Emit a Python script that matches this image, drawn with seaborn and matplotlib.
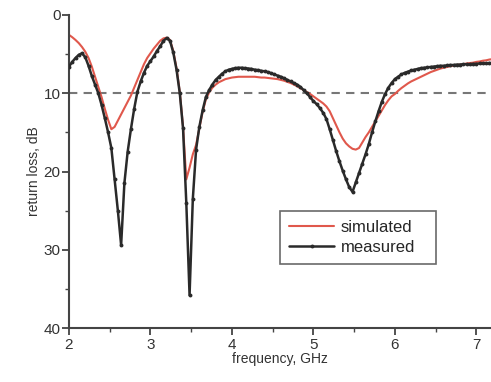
import numpy as np
import matplotlib
matplotlib.use("Agg")
import matplotlib.pyplot as plt
from matplotlib.ticker import MultipleLocator
import seaborn as sns

# frequency grid, GHz (step 0.04, 2.00 .. 7.20)
freq = np.round(2.0 + 0.04 * np.arange(131), 2)

# measured return loss, dB
measured = [
    6.6, 6.0, 5.5, 5.1, 4.9, 5.4, 6.5, 7.8, 8.9, 10.0,
    11.5, 13.2, 15.0, 17.0, 21.0, 25.0, 29.4, 21.5, 17.5, 14.6,
    12.0, 9.8, 8.5, 7.4, 6.5, 5.9, 5.3, 4.6, 4.0, 3.3,
    2.95, 3.3, 4.8, 7.0, 10.0, 14.5, 24.0, 35.8, 23.5, 17.2,
    14.3, 12.2, 10.5, 9.6, 8.9, 8.3, 7.9, 7.5, 7.2, 7.0,
    6.9, 6.8, 6.75, 6.75, 6.8, 6.85, 6.9, 7.0, 7.05, 7.15,
    7.2, 7.3, 7.45, 7.6, 7.75, 7.9, 8.1, 8.3, 8.5, 8.7,
    8.9, 9.2, 9.6, 10.0, 10.5, 11.0, 11.4, 11.9, 12.5, 13.3,
    14.6, 16.0, 17.4, 18.7, 19.9, 21.0, 22.0, 22.6, 21.4, 20.2,
    19.0, 17.8, 16.5, 15.0, 13.6, 12.3, 11.1, 10.1, 9.3, 8.7,
    8.2, 7.9, 7.6, 7.4, 7.25, 7.1, 7.0, 6.9, 6.8, 6.75,
    6.7, 6.65, 6.6, 6.55, 6.5, 6.5, 6.45, 6.4, 6.4, 6.35,
    6.35, 6.3, 6.3, 6.3, 6.25, 6.25, 6.2, 6.2, 6.2, 6.15,
    6.15,
]

# simulated return loss, dB
simulated = [
    2.55, 2.85, 3.2, 3.6, 4.1, 4.7, 5.5, 6.6, 7.9, 9.2,
    10.5, 12.0, 13.4, 14.6, 14.3, 13.5, 12.7, 11.9, 11.1, 10.3,
    9.3, 8.3, 7.3, 6.3, 5.5, 4.9, 4.3, 3.8, 3.3, 3.0,
    2.9, 3.2, 4.6, 6.8, 9.8, 14.3, 21.0, 19.5, 17.8, 16.6,
    14.5, 12.4, 10.8, 9.9, 9.3, 8.9, 8.6, 8.4, 8.2, 8.1,
    8.0, 7.95, 7.9, 7.9, 7.9, 7.9, 7.9, 7.9, 7.95, 8.0,
    8.0, 8.05, 8.1, 8.15, 8.2, 8.3, 8.4, 8.55, 8.7, 8.9,
    9.1, 9.35, 9.6, 9.85, 10.1, 10.4, 10.7, 11.0, 11.3, 11.7,
    12.3, 13.2, 14.1, 15.0, 15.8, 16.4, 16.8, 17.1, 17.2, 17.0,
    16.3, 15.6, 15.0, 14.3, 13.6, 12.9, 12.2, 11.5, 10.9, 10.4,
    10.1, 9.7, 9.35, 9.05, 8.75, 8.5, 8.3, 8.1, 7.9, 7.7,
    7.5, 7.3, 7.15, 7.0, 6.85, 6.75, 6.65, 6.55, 6.5, 6.4,
    6.35, 6.3, 6.2, 6.15, 6.1, 6.0, 5.95, 5.85, 5.8, 5.7,
    5.65,
]

threshold = 10

sns.set_style("white")
plt.rcParams['font.family'] = ['Liberation Sans', 'DejaVu Sans']

fig = plt.figure(figsize=(4.91, 3.82), dpi=100)
ax = fig.add_axes([0.1405, 0.141, 0.8595, 0.82])

ax.axhline(threshold, color='#777777', linestyle=(0, (4, 3)), linewidth=1.5, zorder=1)
sns.lineplot(x=freq, y=simulated, ax=ax, color='#e0584c', linewidth=1.5,
             label='simulated', zorder=2)
sns.lineplot(x=freq, y=measured, ax=ax, color='#2a2a2a', linewidth=1.8,
             marker='o', markersize=2.8, markeredgewidth=0, label='measured', zorder=3)

ax.set_xlim(2, 7.18)
ax.set_ylim(40, 0)
ax.xaxis.set_major_locator(MultipleLocator(1))
ax.xaxis.set_minor_locator(MultipleLocator(0.5))
ax.yaxis.set_major_locator(MultipleLocator(10))
ax.yaxis.set_minor_locator(MultipleLocator(5))
ax.tick_params(which='both', bottom=True, left=True, top=False, right=False)
ax.tick_params(which='major', direction='out', length=5, width=1.3,
               colors='#444444', labelsize=11, labelcolor='#333333')
ax.tick_params(which='minor', direction='out', length=3, width=1.0, colors='#444444')
ax.tick_params(axis='x', pad=2)
ax.tick_params(axis='y', pad=1)

for side in ['top', 'right']:
    ax.spines[side].set_visible(False)
for side in ['left', 'bottom']:
    ax.spines[side].set_color('#444444')
    ax.spines[side].set_linewidth(1.5)

ax.set_xlabel('frequency, GHz', fontsize=10, color='#333333', labelpad=0)
ax.set_ylabel('return loss, dB', fontsize=10, color='#333333', labelpad=2)

leg = ax.legend(loc='upper left', bbox_to_anchor=(0.5, 0.2, 0.37, 0.174),
                mode='expand', fontsize=12,
                frameon=True, fancybox=False, handlelength=2.7, borderpad=0.55,
                labelspacing=0.3, handletextpad=0.4, borderaxespad=0)
leg.get_frame().set_edgecolor('#444444')
leg.get_frame().set_linewidth(1.2)

fig.savefig('out.png', dpi=100)
